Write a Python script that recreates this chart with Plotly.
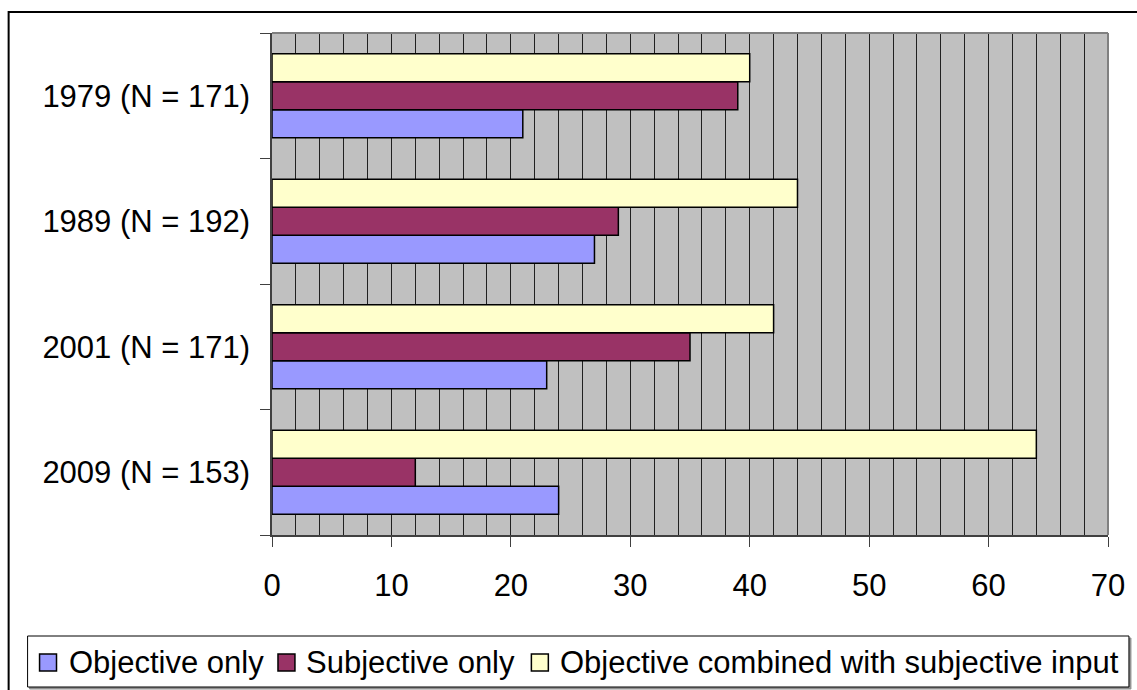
import plotly.graph_objects as go

# Survey years with sample sizes, listed bottom-to-top on the category axis
categories = ["2009 (N = 153)", "2001 (N = 171)", "1989 (N = 192)", "1979 (N = 171)"]

objective_only = [24, 23, 27, 21]
subjective_only = [12, 35, 29, 39]
objective_with_subjective = [64, 42, 44, 40]

series_names = ["Objective only", "Subjective only", "Objective combined with subjective input"]
series_colors = ["#9999FF", "#993366", "#FFFFCC"]

x_ticks = [0, 10, 20, 30, 40, 50, 60, 70]

FONT = "Liberation Sans, Arial, sans-serif"
W, H = 1137, 690
ML, MR, MT, MB = 272, 27, 33, 155
PW, PH = W - ML - MR, H - MT - MB


def px_x(x):
    """Page pixel column -> paper x."""
    return (x - ML) / PW


def px_y(y):
    """Page pixel row -> paper y."""
    return (H - MB - y) / PH


fig = go.Figure()
for name, vals, color in zip(series_names,
                             [objective_only, subjective_only, objective_with_subjective],
                             series_colors):
    fig.add_trace(go.Bar(
        y=categories, x=vals, name=name, orientation="h", showlegend=False,
        marker=dict(color=color, line=dict(color="black", width=1.5)),
    ))

shapes = [
    # gray frame on the top and right edges of the plot area
    dict(type="line", xref="paper", yref="paper", x0=0, x1=1, y0=1, y1=1,
         line=dict(color="#808080", width=2)),
    dict(type="line", xref="paper", yref="paper", x0=1, x1=1, y0=0, y1=1,
         line=dict(color="#808080", width=2)),
    # outer chart border
    dict(type="rect", xref="paper", yref="paper",
         x0=px_x(8), x1=px_x(1150), y0=px_y(705), y1=px_y(12),
         line=dict(color="black", width=2), layer="below"),
    # legend box with a soft shadow
    dict(type="rect", xref="paper", yref="paper",
         x0=px_x(29), x1=px_x(1133), y0=px_y(689), y1=px_y(638),
         line=dict(color="#909090", width=1), fillcolor="#909090", layer="below"),
    dict(type="rect", xref="paper", yref="paper",
         x0=px_x(27), x1=px_x(1131), y0=px_y(687), y1=px_y(636),
         line=dict(color="black", width=1), fillcolor="white", layer="above"),
]

annotations = []
legend_square_x = [39, 278, 532]
legend_text_x = [67, 304, 559]
for name, color, sx, tx in zip(series_names, series_colors, legend_square_x, legend_text_x):
    shapes.append(dict(type="rect", xref="paper", yref="paper",
                       x0=px_x(sx), x1=px_x(sx + 17), y0=px_y(671), y1=px_y(654),
                       line=dict(color="black", width=1.5), fillcolor=color, layer="above"))
    annotations.append(dict(xref="paper", yref="paper", x=px_x(tx), y=px_y(662),
                            xanchor="left", yanchor="middle", showarrow=False,
                            text=name, font=dict(family=FONT, size=31, color="black")))

fig.update_layout(
    width=W, height=H,
    margin=dict(l=ML, r=MR, t=MT, b=MB),
    paper_bgcolor="white",
    plot_bgcolor="#C0C0C0",
    barmode="group", bargap=0.33, bargroupgap=0,
    font=dict(family=FONT, size=31, color="black"),
    showlegend=False,
    xaxis=dict(
        range=[0, 70], tickvals=x_ticks, ticktext=[str(v) for v in x_ticks],
        showgrid=True, gridcolor="#202020", gridwidth=1,
        minor=dict(dtick=2, showgrid=True, gridcolor="#202020", gridwidth=1),
        showline=True, linecolor="#404040", linewidth=1.5,
        ticks="outside", ticklen=10, tickcolor="#404040", tickwidth=1,
        ticklabelstandoff=12, zeroline=False, fixedrange=True,
    ),
    yaxis=dict(
        type="category", categoryorder="array", categoryarray=categories,
        tickson="boundaries", ticks="outside", ticklen=10, tickcolor="#404040",
        showline=True, linecolor="#404040", linewidth=1.5,
        showgrid=False, ticklabelstandoff=14, fixedrange=True,
    ),
    shapes=shapes,
    annotations=annotations,
)

fig.write_html("out.html")
